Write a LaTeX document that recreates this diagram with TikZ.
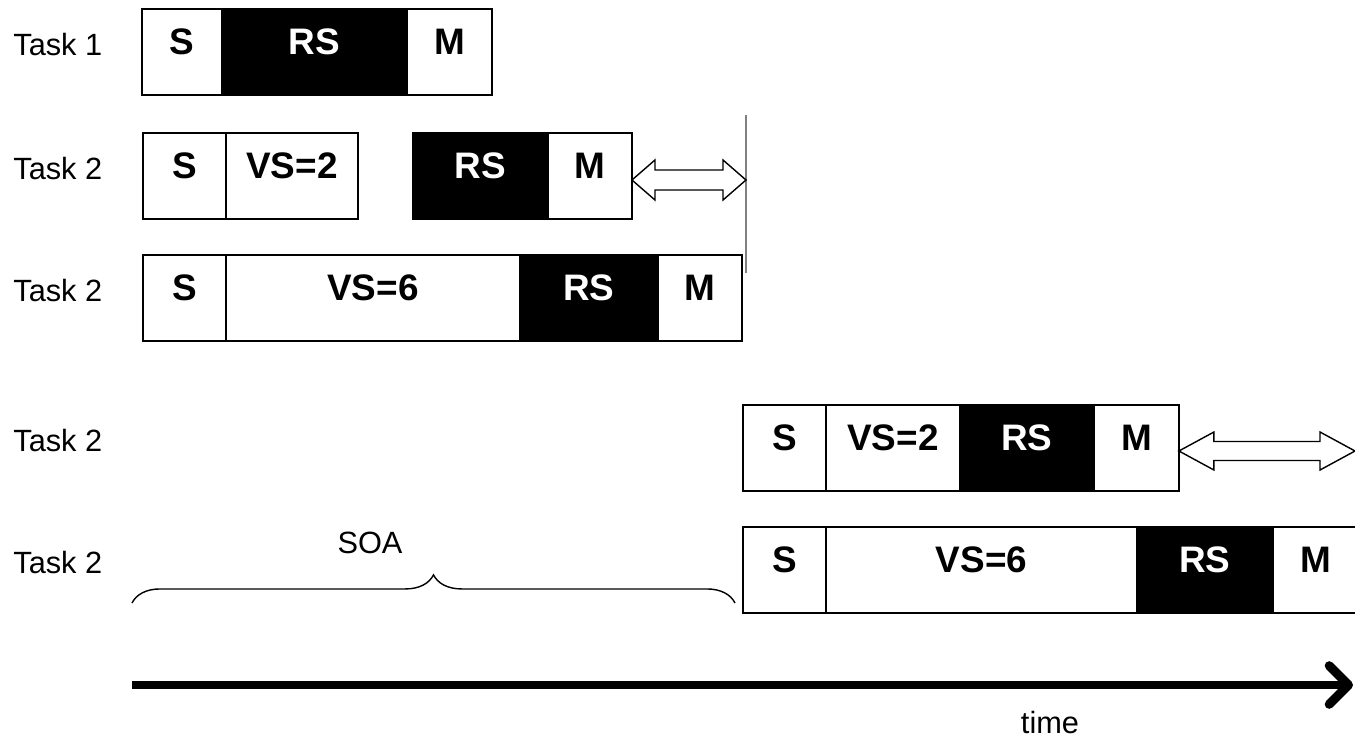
\documentclass[tikz,border=0pt]{standalone}
\usepackage{fontspec}
\setmainfont{Liberation Sans}
\usepackage{tikz}
\usetikzlibrary{calc,positioning,arrows.meta,decorations.pathreplacing}

\tikzset{
  seg/.style={draw, line width=1.1pt, outer sep=0pt, inner sep=0pt,
    minimum height=1.72cm, text height=16pt, text depth=12.6pt,
    font=\fontsize{21}{25}\selectfont\bfseries},
  rsseg/.style={seg, fill=black, text=white},
  tasklbl/.style={anchor=base west, inner sep=0pt, font=\fontsize{17.5}{21}\selectfont},
  hollow/.style={draw, line width=0.8pt, line join=miter, fill=white},
}

\begin{document}
\begin{tikzpicture}[x=0.02cm, y=-0.02cm]
    \useasboundingbox (0,0) rectangle (1355,747);
	%task labels
    \node[tasklbl] (t1) at (13,55) {Task 1};
    \node[tasklbl] (t2) at (13,179) {Task 2};
    \node[tasklbl] (t3) at (13,301) {Task 2};
    \node[tasklbl] (t4) at (13,451) {Task 2};
    \node[tasklbl] (t5) at (13,573) {Task 2};

	%first row
    \node[seg, anchor=west, minimum width=1.6cm] (s1) at (142,52) {S};
    \node[rsseg, right=0pt of s1, minimum width=3.7cm] (rs1) {RS};
    \node[seg, right=0pt of rs1, minimum width=1.7cm] (m1) {M};

	%second row, the gap before RS
    \node[seg, anchor=west, minimum width=1.66cm] (s2) at (143,176) {S};
    \node[seg, right=0pt of s2, minimum width=2.64cm] (vs2) {VS=2};
    \node[rsseg, anchor=west, minimum width=2.7cm] (rs2) at (413,176) {RS};
    \node[seg, right=0pt of rs2, minimum width=1.68cm] (m2) {M};

	%third row
    \node[seg, anchor=west, minimum width=1.66cm] (s3) at (143,298) {S};
    \node[seg, right=0pt of s3, minimum width=5.88cm] (vs3) {VS=6};
    \node[rsseg, right=0pt of vs3, minimum width=2.76cm] (rs3) {RS};
    \node[seg, right=0pt of rs3, minimum width=1.68cm] (m3) {M};

	%shifted rows
    \node[seg, anchor=west, minimum width=1.66cm] (s4) at (743,448) {S};
    \node[seg, right=0pt of s4, minimum width=2.68cm] (vs4) {VS=2};
    \node[rsseg, right=0pt of vs4, minimum width=2.68cm] (rs4) {RS};
    \node[seg, right=0pt of rs4, minimum width=1.7cm] (m4) {M};

    \node[seg, anchor=west, minimum width=1.66cm] (s5) at (743,570) {S};
    \node[seg, right=0pt of s5, minimum width=6.22cm] (vs5) {VS=6};
    \node[rsseg, right=0pt of vs5, minimum width=2.72cm] (rs5) {RS};
    \node[seg, right=0pt of rs5, minimum width=1.7cm] (m5) {M};

	%end line of the long row
    \coordinate (top) at (746,115);
    \coordinate (bot) at (746,273);
    \draw[gray, line width=0.8pt] (top) -- (bot);

	%the double arrows
    \coordinate (gap2) at (746,180);
    \coordinate (gap4) at (1355,451);
    \def\hl{23}
    \draw[hollow] (m2.east |- gap2) -- ++(\hl,-20) -- ++(0,10) -- ($(gap2)+(-\hl,-10)$)
      -- ++(0,-10) -- (gap2) -- ++(-\hl,20) -- ++(0,-10) -- ($(m2.east |- gap2)+(\hl,10)$)
      -- ++(0,10) -- cycle;
    \def\hl{35}
    \draw[hollow] (m4.east |- gap4) -- ++(\hl,-19) -- ++(0,9.5) -- ($(gap4)+(-\hl,-9.5)$)
      -- ++(0,-9.5) -- (gap4) -- ++(-\hl,19) -- ++(0,-9.5) -- ($(m4.east |- gap4)+(\hl,9.5)$)
      -- ++(0,9.5) -- cycle;

	%the SOA brace
    \coordinate (soaL) at (132,603);
    \coordinate (soaR) at (735,603);
    \draw[line width=0.8pt, decorate, decoration={brace, amplitude=16pt}] (soaL) -- (soaR);
    \node[anchor=base, inner sep=0pt, font=\fontsize{17.5}{21}\selectfont] (soa) at (370,553) {SOA};

	%time axis
    \coordinate (t0) at (132,685);
    \coordinate (tend) at (1353,685);
    \draw[line width=5.1pt, -{Straight Barb[length=11pt, width=22pt, round]}] (t0) -- (tend);
    \node[font=\fontsize{17.5}{21}\selectfont] (time) at (1050,722) {time};
\end{tikzpicture}
\end{document}
